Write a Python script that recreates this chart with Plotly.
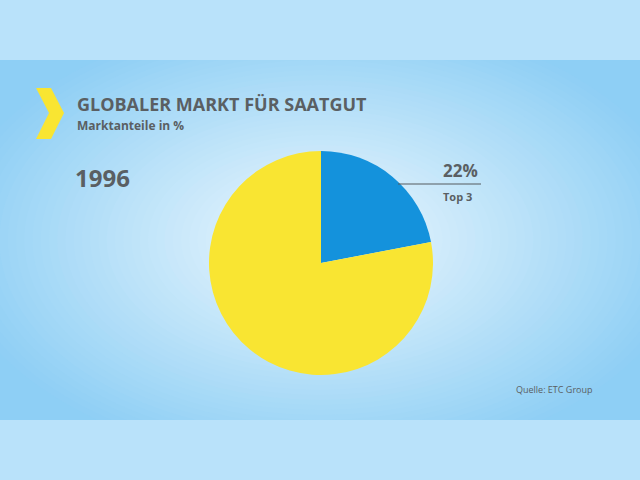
import plotly.graph_objects as go

labels = ["Top 3", "Andere"]
values = [22, 78]
colors = ["#1492dc", "#f9e532"]

W, H = 640, 480
def px(x): return x / W
def py(y): return 1 - y / H

fig = go.Figure(go.Pie(
    labels=labels, values=values, marker=dict(colors=colors, line=dict(width=0)),
    sort=False, direction="clockwise", rotation=0, textinfo="none", hoverinfo="label+percent",
    domain=dict(x=[px(209), px(433)], y=[py(375), py(151)]), showlegend=False))

shapes = [
    dict(type="rect", xref="paper", yref="paper", x0=0, x1=1, y0=py(60), y1=py(420),
         fillcolor="#8ecff5", line=dict(width=0), layer="below"),
]
steps = 40
for i in range(steps):
    f = i / steps
    rx = 330 * (1 - f) + 40
    ry = 200 * (1 - f) + 25
    c0 = (142, 207, 245); c1 = (228, 244, 253)
    col = tuple(int(c0[k] + (c1[k] - c0[k]) * (i + 1) / steps) for k in range(3))
    shapes.append(dict(type="circle", xref="paper", yref="paper",
                       x0=px(320 - rx), x1=px(320 + rx), y0=py(240 + ry), y1=py(240 - ry),
                       fillcolor="rgb(%d,%d,%d)" % col, line=dict(width=0), layer="below"))
shapes.append(dict(type="rect", xref="paper", yref="paper", x0=0, x1=1, y0=py(0), y1=py(60),
                   fillcolor="#b9e2fa", line=dict(width=0), layer="below"))
shapes.append(dict(type="rect", xref="paper", yref="paper", x0=0, x1=1, y0=py(420), y1=py(480),
                   fillcolor="#b9e2fa", line=dict(width=0), layer="below"))
pts = [(36, 88), (51, 88), (64, 113), (51, 139), (36, 139), (49, 113)]
path = "M " + " L ".join(f"{px(x)},{py(y)}" for x, y in pts) + " Z"
shapes.append(dict(type="path", xref="paper", yref="paper", path=path,
                   fillcolor="#f9e532", line=dict(width=0)))
shapes.append(dict(type="line", xref="paper", yref="paper", x0=px(398), x1=px(481),
                   y0=py(184), y1=py(184), line=dict(color="#555a5f", width=1)))

font = "Open Sans"
grey = "#5a5f63"
ann = [
    dict(text="<b>GLOBALER MARKT FÜR SAATGUT</b>", x=px(75), y=py(104), size=18),
    dict(text="<b>Marktanteile in %</b>", x=px(75), y=py(125), size=12),
    dict(text="<b>1996</b>", x=px(73), y=py(177), size=24),
    dict(text="<b>22%</b>", x=px(441), y=py(171), size=17),
    dict(text="<b>Top 3</b>", x=px(441), y=py(196), size=11),
    dict(text="Quelle: ETC Group", x=px(514), y=py(389), size=9),
]
annotations = [dict(text=a["text"], x=a["x"], y=a["y"], xref="paper", yref="paper",
                    xanchor="left", yanchor="middle", showarrow=False,
                    font=dict(family=font, size=a["size"], color=grey)) for a in ann]

fig.update_layout(width=W, height=H, margin=dict(l=0, r=0, t=0, b=0),
                  paper_bgcolor="#b9e2fa", plot_bgcolor="rgba(0,0,0,0)",
                  shapes=shapes, annotations=annotations)
fig.write_html("out.html", config={"displayModeBar": False})
with open("out.html", encoding="utf-8") as fh:
    html = fh.read()
html = html.replace("<body>", '<body style="margin:0;overflow:hidden">', 1)
with open("out.html", "w", encoding="utf-8") as fh:
    fh.write(html)
